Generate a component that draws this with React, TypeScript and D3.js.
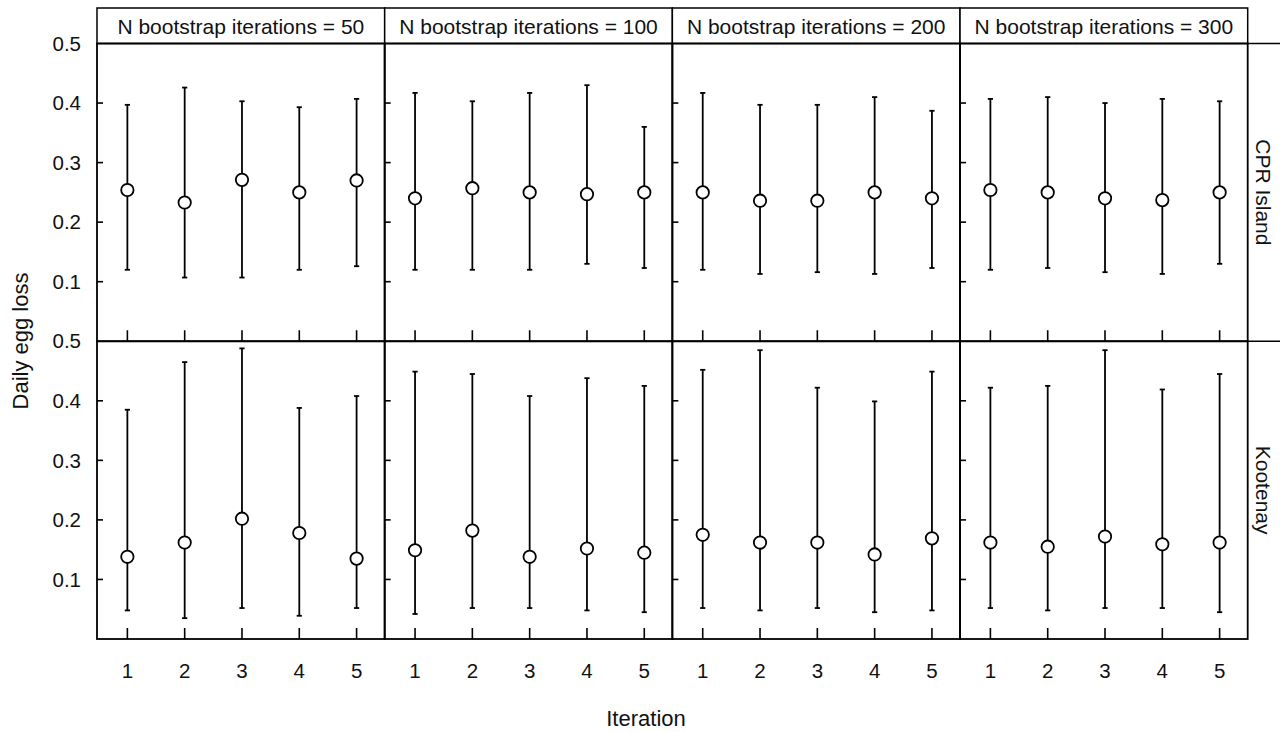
import React from "react";
import * as d3 from "d3";

// Facets: columns = number of bootstrap iterations, rows = site
const bootstrapN = [50, 100, 200, 300];
const sites = ["CPR Island", "Kootenay"];
const iterations = [1, 2, 3, 4, 5];
const yTicks = [0.1, 0.2, 0.3, 0.4, 0.5];

// CPR Island: estimate and interval per bootstrap size (rows) and iteration (columns)
const cprMean = [
  [0.254, 0.233, 0.271, 0.25, 0.27],
  [0.24, 0.257, 0.25, 0.247, 0.25],
  [0.25, 0.236, 0.236, 0.25, 0.24],
  [0.254, 0.25, 0.24, 0.237, 0.25],
];
const cprLower = [
  [0.12, 0.107, 0.107, 0.12, 0.126],
  [0.12, 0.12, 0.12, 0.13, 0.123],
  [0.12, 0.113, 0.116, 0.113, 0.123],
  [0.12, 0.123, 0.116, 0.113, 0.13],
];
const cprUpper = [
  [0.397, 0.426, 0.403, 0.393, 0.407],
  [0.417, 0.403, 0.417, 0.43, 0.36],
  [0.417, 0.397, 0.397, 0.41, 0.387],
  [0.407, 0.41, 0.4, 0.407, 0.403],
];

// Kootenay
const kootMean = [
  [0.138, 0.162, 0.202, 0.178, 0.135],
  [0.149, 0.182, 0.138, 0.152, 0.145],
  [0.175, 0.162, 0.162, 0.142, 0.169],
  [0.162, 0.155, 0.172, 0.159, 0.162],
];
const kootLower = [
  [0.048, 0.035, 0.052, 0.039, 0.052],
  [0.042, 0.052, 0.052, 0.048, 0.045],
  [0.052, 0.048, 0.052, 0.045, 0.048],
  [0.052, 0.048, 0.052, 0.052, 0.045],
];
const kootUpper = [
  [0.385, 0.465, 0.488, 0.388, 0.408],
  [0.449, 0.445, 0.408, 0.438, 0.425],
  [0.452, 0.485, 0.422, 0.399, 0.449],
  [0.422, 0.425, 0.485, 0.419, 0.445],
];

const siteMean = [cprMean, kootMean];
const siteLower = [cprLower, kootLower];
const siteUpper = [cprUpper, kootUpper];

const W = 1280;
const H = 732;
const left = 97;
const right = 1247.7;
const top = 43.5;
const bottom = 639;
const stripTop = 8;
const font = "'Liberation Sans', Arial, Helvetica, sans-serif";
const ink = "#111";

export default function App() {
  const colW = (right - left) / bootstrapN.length;
  const rowH = (bottom - top) / sites.length;

  const colX = d3.scaleBand<number>().domain(d3.range(bootstrapN.length)).range([left, right]).padding(0);
  const rowY = d3.scaleBand<number>().domain(d3.range(sites.length)).range([top, bottom]).padding(0);

  const xIn = d3.scaleLinear().domain([0.47, 5.49]).range([0, colW]);
  const yIn = d3.scaleLinear().domain([0, 0.5]).range([rowH, 0]);

  const stroke = "#000";
  const capHalf = 2.6;

  return (
    <svg
      width={W}
      height={H}
      style={{ position: "absolute", left: 0, top: 0, background: "#fff" }}
      fontFamily={font}
    >
      <rect x={0} y={0} width={W} height={H} fill="#fff" />

      {/* strip headers */}
      {bootstrapN.map((n, c) => (
        <g key={`strip-${n}`} transform={`translate(${colX(c)},${stripTop})`}>
          <rect x={0} y={0} width={colW} height={top - stripTop} fill="#fff" stroke={stroke} strokeWidth={1.5} />
          <text x={colW / 2} y={25.5} textAnchor="middle" fontSize={21} fill={ink}>
            {`N bootstrap iterations = ${n}`}
          </text>
        </g>
      ))}

      {/* right-hand site strips */}
      {sites.map((s, r) => {
        const y0 = rowY(r)!;
        return (
          <g key={`rs-${s}`}>
            <line x1={right} x2={W} y1={y0} y2={y0} stroke={stroke} strokeWidth={1.3} />
            <text
              transform={`translate(${1255.5},${y0 + rowH / 2}) rotate(90)`}
              textAnchor="middle"
              fontSize={21}
              fill={ink}
            >
              {s}
            </text>
          </g>
        );
      })}

      {/* panels */}
      {sites.map((s, r) =>
        bootstrapN.map((n, c) => {
          const x0 = colX(c)!;
          const y0 = rowY(r)!;
          const mean = siteMean[r][c];
          const lo = siteLower[r][c];
          const hi = siteUpper[r][c];
          return (
            <g key={`p-${r}-${c}`} transform={`translate(${x0},${y0})`}>
              {/* y ticks, inward */}
              {yTicks.slice(0, -1).map((t) => (
                <line key={`yt-${t}`} x1={0} x2={6} y1={yIn(t)} y2={yIn(t)} stroke={stroke} strokeWidth={1.6} />
              ))}
              {/* x ticks, inward */}
              {iterations.map((it) => (
                <line key={`xt-${it}`} x1={xIn(it)} x2={xIn(it)} y1={rowH} y2={rowH - 11} stroke={stroke} strokeWidth={1.6} />
              ))}
              {/* error bars */}
              {iterations.map((it, i) => {
                const cx = xIn(it);
                return (
                  <g key={`eb-${it}`}>
                    <line x1={cx} x2={cx} y1={yIn(lo[i])} y2={yIn(hi[i])} stroke={stroke} strokeWidth={1.8} />
                    <line x1={cx - capHalf} x2={cx + capHalf} y1={yIn(lo[i])} y2={yIn(lo[i])} stroke={stroke} strokeWidth={1.8} />
                    <line x1={cx - capHalf} x2={cx + capHalf} y1={yIn(hi[i])} y2={yIn(hi[i])} stroke={stroke} strokeWidth={1.8} />
                    <circle cx={cx} cy={yIn(mean[i])} r={6.2} fill="#fff" stroke={stroke} strokeWidth={1.8} />
                  </g>
                );
              })}
              <rect x={0} y={0} width={colW} height={rowH} fill="none" stroke={stroke} strokeWidth={1.8} />
            </g>
          );
        })
      )}

      {/* y tick labels */}
      {sites.map((s, r) => {
        const y0 = rowY(r)!;
        return yTicks.map((t) => (
          <text
            key={`yl-${r}-${t}`}
            x={81}
            y={y0 + yIn(t)}
            dy="0.35em"
            textAnchor="end"
            fontSize={20.5}
            fill={ink}
          >
            {d3.format(".1f")(t)}
          </text>
        ));
      })}

      {/* x tick labels */}
      {bootstrapN.map((n, c) =>
        iterations.map((it) => (
          <text
            key={`xl-${c}-${it}`}
            x={colX(c)! + xIn(it)}
            y={677.5}
            textAnchor="middle"
            fontSize={20.5}
            fill={ink}
          >
            {it}
          </text>
        ))
      )}

      {/* axis titles */}
      <text x={646} y={726} textAnchor="middle" fontSize={22} fill={ink}>
        Iteration
      </text>
      <text
        transform={`translate(${28},${341}) rotate(-90)`}
        textAnchor="middle"
        fontSize={22}
        fill={ink}
      >
        Daily egg loss
      </text>
    </svg>
  );
}
